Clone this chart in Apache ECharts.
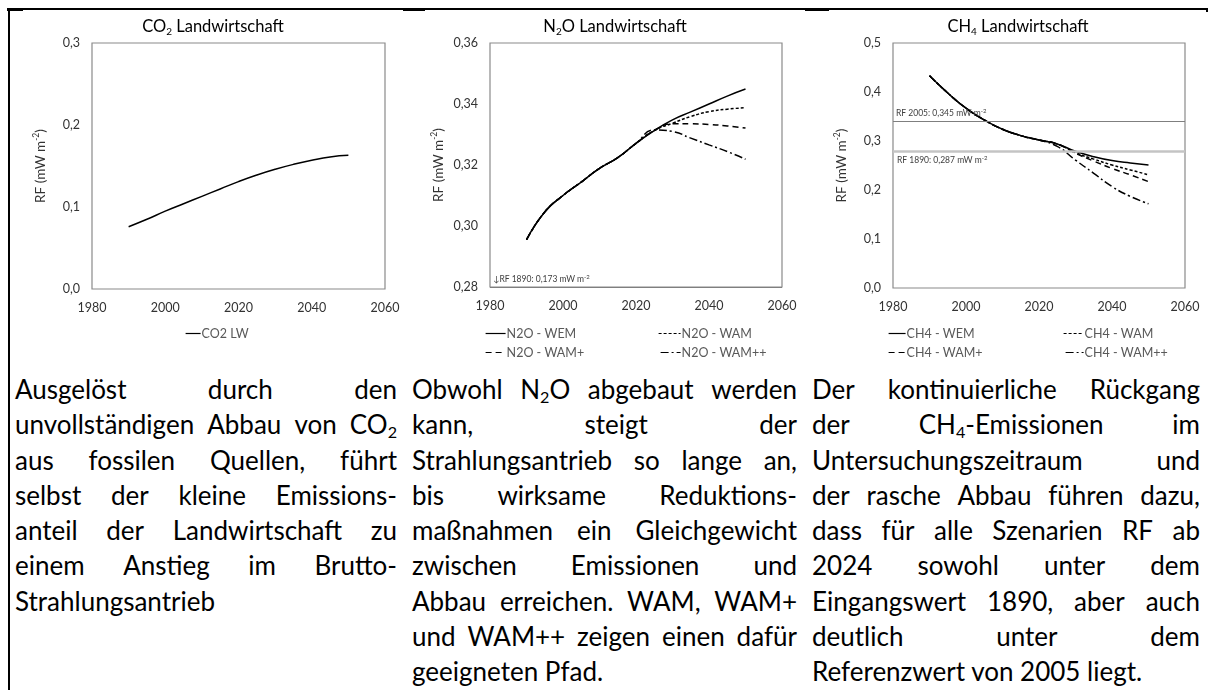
<!DOCTYPE html>
<html>
<head>
<meta charset="utf-8">
<script src="https://cdn.jsdelivr.net/npm/echarts@6/dist/echarts.min.js"></script>
<style>
  body { margin: 0; background: #fff; }
  #page { position: relative; width: 1210px; height: 690px; overflow: hidden; font-family: Lato, "Open Sans", sans-serif; }
  #chart { position: absolute; left: 0; top: 0; width: 1210px; height: 365px; }
  .col { position: absolute; top: 372px; font-size: 26px; line-height: 35.3px; color: #000; }
  .ln { display: flex; justify-content: space-between; white-space: nowrap; height: 35.3px; }
  .ln.last { display: block; }
  .bd { position: absolute; background: #000; }
  sub { font-size: 0.62em; vertical-align: -0.25em; line-height: 0; }
</style>
</head>
<body>
<div id="page">
  <div id="chart"></div>
  <div class="bd" style="left:8px;top:8px;width:1200px;height:1.5px"></div>
  <div class="bd" style="left:7px;top:8px;width:16px;height:3px"></div>
  <div class="bd" style="left:403px;top:8px;width:22px;height:3px"></div>
  <div class="bd" style="left:805px;top:8px;width:24px;height:3px"></div>
  <div class="bd" style="left:1206px;top:8px;width:2px;height:4px"></div>
  <div class="bd" style="left:8px;top:8px;width:2px;height:682px"></div>
  <div class="col" id="c1" style="left:15px;width:382px"></div>
  <div class="col" id="c2" style="left:412px;width:385px"></div>
  <div class="col" id="c3" style="left:812px;width:388px"></div>
</div>
<script>
// Jahre (5-Jahres-Schritte)
const years = [1990, 1995, 2000, 2005, 2010, 2015, 2020, 2025, 2030, 2035, 2040, 2045, 2050];

// CO2 Landwirtschaft
const co2LW = [0.076, 0.085, 0.095, 0.104, 0.113, 0.122, 0.131, 0.139, 0.146, 0.152, 0.157, 0.161, 0.163];

// N2O Landwirtschaft
const n2oWEM  = [0.2955, 0.3046, 0.3100, 0.3144, 0.3189, 0.3224, 0.3271, 0.3313, 0.3348, 0.3374, 0.3400, 0.3426, 0.3449];
const n2oWAM  = [0.2955, 0.3046, 0.3100, 0.3144, 0.3189, 0.3224, 0.3271, 0.3313, 0.3337, 0.3359, 0.3375, 0.3383, 0.3388];
const n2oWAMp = [0.2955, 0.3046, 0.3100, 0.3144, 0.3189, 0.3224, 0.3271, 0.3313, 0.3335, 0.3335, 0.3333, 0.3328, 0.3321];
const n2oWAMpp = [0.2955, 0.3046, 0.3100, 0.3144, 0.3189, 0.3224, 0.3271, 0.3315, 0.3310, 0.3288, 0.3266, 0.3244, 0.3219];
const n2oRef1890 = 0.2837;

// CH4 Landwirtschaft
const ch4WEM  = [0.433, 0.398, 0.367, 0.343, 0.324, 0.311, 0.302, 0.294, 0.279, 0.268, 0.260, 0.255, 0.251];
const ch4WAM  = [0.433, 0.398, 0.367, 0.343, 0.324, 0.311, 0.302, 0.294, 0.276, 0.263, 0.251, 0.241, 0.231];
const ch4WAMp = [0.433, 0.398, 0.367, 0.343, 0.324, 0.311, 0.302, 0.294, 0.275, 0.259, 0.244, 0.231, 0.217];
const ch4WAMpp = [0.433, 0.398, 0.367, 0.343, 0.324, 0.311, 0.302, 0.289, 0.261, 0.234, 0.207, 0.187, 0.172];
const ch4Ref2005 = 0.335;
const ch4Ref1890 = 0.281;

// Texte unter den Diagrammen
const text1 = [
  'Ausgelöst durch den',
  'unvollständigen Abbau von CO<sub>2</sub>',
  'aus fossilen Quellen, führt',
  'selbst der kleine Emissions-',
  'anteil der Landwirtschaft zu',
  'einem Anstieg im Brutto-',
  'Strahlungsantrieb'
];
const text2 = [
  'Obwohl N<sub>2</sub>O abgebaut werden',
  'kann, steigt der',
  'Strahlungsantrieb so lange an,',
  'bis wirksame Reduktions-',
  'maßnahmen ein Gleichgewicht',
  'zwischen Emissionen und',
  'Abbau erreichen. WAM, WAM+',
  'und WAM++ zeigen einen dafür',
  'geeigneten Pfad.'
];
const text3 = [
  'Der kontinuierliche Rückgang',
  'der CH<sub>4</sub>-Emissionen im',
  'Untersuchungszeitraum und',
  'der rasche Abbau führen dazu,',
  'dass für alle Szenarien RF ab',
  '2024 sowohl unter dem',
  'Eingangswert 1890, aber auch',
  'deutlich unter dem',
  'Referenzwert von 2005 liegt.'
];

function fillText(id, lines) {
  const el = document.getElementById(id);
  lines.forEach((l, i) => {
    const d = document.createElement('div');
    if (i === lines.length - 1) {
      d.className = 'ln last';
      d.innerHTML = l;
    } else {
      d.className = 'ln';
      d.innerHTML = l.split(' ').map(w => '<span>' + w + '</span>').join('');
    }
    el.appendChild(d);
  });
}
fillText('c1', text1);
fillText('c2', text2);
fillText('c3', text3);

const pairs = arr => years.map((y, i) => [y, arr[i]]);

const FONT = 'Lato';
const labelColor = '#333';
const grids = [
  { left: 92, top: 43, width: 293, height: 246 },
  { left: 490, top: 43, width: 292, height: 244 },
  { left: 893, top: 43, width: 292, height: 245 }
];

const yRanges = [
  { min: 0, max: 0.3, interval: 0.1, dec: 1 },
  { min: 0.28, max: 0.36, interval: 0.02, dec: 2 },
  { min: 0, max: 0.5, interval: 0.1, dec: 1 }
];

const chart = echarts.init(document.getElementById('chart'));

const titleRich = {
  a: { fontSize: 16.5, fontFamily: FONT, color: '#000', lineHeight: 20 },
  s: { fontSize: 10, fontFamily: FONT, color: '#000', lineHeight: 10, verticalAlign: 'bottom' }
};
const supRich = {
  a: { fontSize: 13.5, fontFamily: FONT, color: labelColor, lineHeight: 17 },
  s: { fontSize: 8.5, fontFamily: FONT, color: labelColor, lineHeight: 8, verticalAlign: 'top' }
};
const smallRich = {
  a: { fontSize: 8.5, fontFamily: FONT, color: '#404040', lineHeight: 10 },
  s: { fontSize: 6, fontFamily: FONT, color: '#404040', lineHeight: 6, verticalAlign: 'top' }
};

function lineSeries(name, data, idx, type, extra) {
  return Object.assign({
    name: name,
    type: 'line',
    xAxisIndex: idx,
    yAxisIndex: idx,
    data: pairs(data),
    symbol: 'none',
    smooth: 0.5,
    color: '#000',
    itemStyle: { opacity: 0 },
    lineStyle: { color: '#000', width: 1.5, type: type },
    silent: true
  }, extra || {});
}

function legendAt(name, left, top, w) {
  return {
    data: [name],
    left: left,
    top: top,
    itemWidth: w,
    itemHeight: 10,
    padding: 0,
    selectedMode: false,
    itemStyle: { opacity: 0, borderWidth: 0 },
    lineStyle: { width: 1.2 },
    textStyle: { fontFamily: FONT, fontSize: 12.5, color: '#595959', padding: [0, 0, 0, -4] }
  };
}

const dashShort = [3, 2];
const dashLong = [6, 4];
const dashDot = [8, 3, 2, 3];

chart.setOption({
  animation: false,
  graphic: [
    { type: 'text', x: 213, y: 27, style: { text: '{a|CO}{s|2}{a| Landwirtschaft}', rich: titleRich, align: 'center', verticalAlign: 'middle' } },
    { type: 'text', x: 615, y: 27, style: { text: '{a|N}{s|2}{a|O Landwirtschaft}', rich: titleRich, align: 'center', verticalAlign: 'middle' } },
    { type: 'text', x: 1018, y: 27, style: { text: '{a|CH}{s|4}{a| Landwirtschaft}', rich: titleRich, align: 'center', verticalAlign: 'middle' } }
  ],
  grid: grids.map(g => Object.assign({ show: true, borderColor: '#8a8a8a', borderWidth: 1.2, backgroundColor: 'transparent' }, g)),
  xAxis: grids.map((g, i) => ({
    type: 'value',
    gridIndex: i,
    min: 1980, max: 2060, interval: 20,
    axisLine: { show: false },
    axisTick: { show: false },
    splitLine: { show: false },
    axisLabel: { formatter: v => String(v), fontFamily: FONT, fontSize: 12.5, color: labelColor, margin: 12 }
  })),
  yAxis: yRanges.map((r, i) => ({
    type: 'value',
    gridIndex: i,
    min: r.min, max: r.max, interval: r.interval,
    axisLine: { show: false },
    axisTick: { show: false },
    splitLine: { show: false },
    axisLabel: { formatter: v => v.toFixed(r.dec).replace('.', ','), fontFamily: FONT, fontSize: 12.5, color: labelColor, margin: 12 },
    name: '{a|RF (mW m}{s|-2}{a|)}',
    nameLocation: 'middle',
    nameGap: 43,
    nameTextStyle: { rich: supRich }
  })),
  legend: [
    legendAt('CO2 LW', 185, 327, 15),
    legendAt('N2O - WEM', 485, 327, 20),
    legendAt('N2O - WAM', 658, 327, 22),
    legendAt('N2O - WAM+', 485, 346, 20),
    legendAt('N2O - WAM++', 660, 346, 20),
    legendAt('CH4 - WEM', 888, 327, 17),
    legendAt('CH4 - WAM', 1063, 327, 20),
    legendAt('CH4 - WAM+', 888, 346, 17),
    legendAt('CH4 - WAM++', 1065, 346, 18)
  ],
  series: [
    lineSeries('CO2 LW', co2LW, 0, 'solid'),

    lineSeries('N2O - WAM++', n2oWAMpp, 1, dashDot),
    lineSeries('N2O - WAM+', n2oWAMp, 1, dashLong),
    lineSeries('N2O - WAM', n2oWAM, 1, dashShort),
    lineSeries('N2O - WEM', n2oWEM, 1, 'solid', {
      markLine: {
        silent: true, symbol: 'none',
        data: [{
          yAxis: n2oRef1890,
          lineStyle: { color: '#7f7f7f', width: 1, type: 'solid' },
          label: { position: 'insideStartTop', formatter: '{a|↓RF 1890: 0,173 mW m}{s|-2}', rich: smallRich, distance: 3 }
        }]
      }
    }),

    lineSeries('CH4 - WAM++', ch4WAMpp, 2, dashDot),
    lineSeries('CH4 - WAM+', ch4WAMp, 2, dashLong),
    lineSeries('CH4 - WAM', ch4WAM, 2, dashShort),
    lineSeries('CH4 - WEM', ch4WEM, 2, 'solid', {
      markLine: {
        silent: true, symbol: 'none',
        data: [{
          yAxis: ch4Ref2005,
          lineStyle: { color: '#7f7f7f', width: 1, type: 'solid' },
          label: { position: 'insideStartTop', formatter: '{a|RF 2005: 0,345 mW m}{s|-2}', rich: smallRich, distance: 3 }
        }, {
          yAxis: ch4Ref1890,
          lineStyle: { color: '#c4c4c4', width: 2.5, type: 'solid' },
          label: { position: 'insideStartBottom', formatter: '{a|RF 1890: 0,287 mW m}{s|-2}', rich: smallRich, distance: 4 }
        }]
      }
    })
  ]
});
</script>
</body>
</html>
